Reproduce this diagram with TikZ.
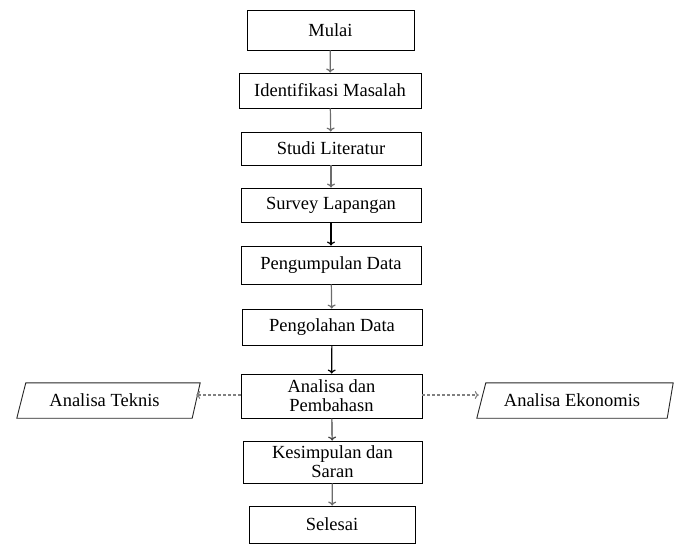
\documentclass[tikz,border=0pt]{standalone}
\usepackage{fontspec}
\setmainfont{Liberation Serif}
\usetikzlibrary{arrows.meta}

\begin{document}
\begin{tikzpicture}[x=1pt, y=-1pt,
  proses/.style={draw, line width=0.9pt, inner sep=1pt, align=center,
    font=\fontsize{18.5}{19}\selectfont},
  masukan/.style={inner sep=1pt, minimum height=35pt,
    font=\fontsize{18.5}{19}\selectfont},
  panah/.style={-{To[length=4pt, width=8pt]}, line width=1.2pt, color=gray!85!black},
  garis/.style={-{To[length=4pt, width=8pt]}, dash pattern=on 3pt off 2pt,
    line width=1.1pt, color=gray}]

\useasboundingbox (0,0) rectangle (680,544);

% edit here for the main boxes
\node[proses, minimum width=167pt, minimum height=40pt] (mulai) at (330.5,30) {Mulai};
\node[proses, minimum width=182pt, minimum height=35pt] (identifikasi) at (330,90.5) {Identifikasi Masalah};
\node[proses, minimum width=180pt, minimum height=33pt] (studi) at (331,148.5) {Studi Literatur};
\node[proses, minimum width=180pt, minimum height=34pt] (survey) at (331,205) {Survey Lapangan};
\node[proses, minimum width=180pt, minimum height=38pt] (pengumpulan) at (331,265) {Pengumpulan Data};
\node[proses, minimum width=180pt, minimum height=36pt] (pengolahan) at (332,327) {Pengolahan Data};
\node[proses, minimum width=181pt, minimum height=44pt] (analisa) at (331.5,396) {Analisa dan\\Pembahasn};
\node[proses, minimum width=179pt, minimum height=42pt] (kesimpulan) at (332.5,462) {Kesimpulan dan\\Saran};
\node[proses, minimum width=166pt, minimum height=37pt] (selesai) at (332,524.5) {Selesai};

% edit here for the side boxes
\node[masukan, minimum width=175pt] (teknis) at (104.5,400.5) {Analisa Teknis};
\node[masukan, minimum width=190pt] (ekonomis) at (572,400.5) {Analisa Ekonomis};
\draw[line width=0.9pt, color=black!85] (teknis.south west) -- ([xshift=9pt]teknis.north west)
  -- ([xshift=8pt]teknis.north east) -- (teknis.south east) -- cycle;
\draw[line width=0.9pt, color=black!85] (ekonomis.south west) -- ([xshift=9pt]ekonomis.north west)
  -- ([xshift=6pt]ekonomis.north east) -- (ekonomis.south east) -- cycle;

\draw[panah] (mulai) -- (identifikasi);
\draw[panah] (identifikasi) -- (studi);
\draw[panah] (studi) -- (survey);
\draw[panah, color=black] (survey) -- (pengumpulan);
\draw[panah] (pengumpulan) -- (pengolahan);
\draw[panah, color=black] (pengolahan) -- (analisa);
\draw[panah, color=darkgray] (analisa) -- (kesimpulan);
\draw[panah] (kesimpulan) -- (selesai);

\draw[garis] (analisa.west |- 0,395) -- ([xshift=4pt]teknis.east |- 0,395);
\draw[garis] (analisa.east |- 0,395) -- ([xshift=2pt]ekonomis.west |- 0,395);

\end{tikzpicture}
\end{document}
